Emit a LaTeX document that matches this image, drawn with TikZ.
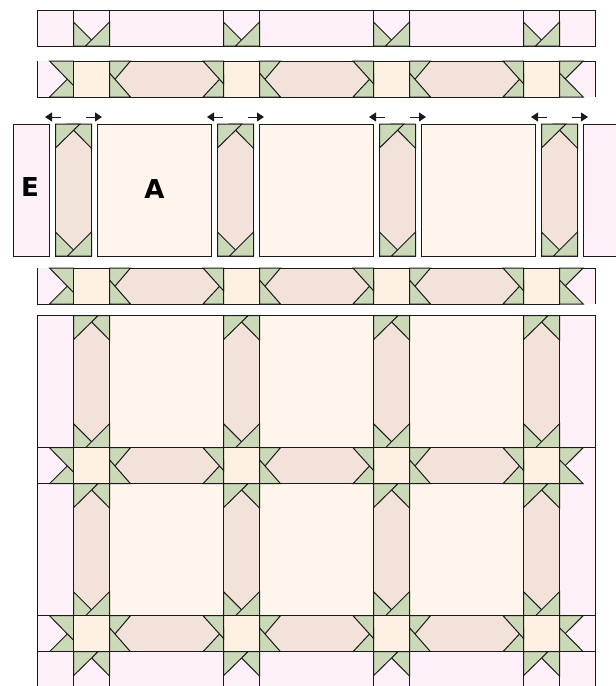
\documentclass[tikz,border=0pt]{standalone}
\usepackage{fontspec}
\setmainfont{DejaVu Sans}
\usetikzlibrary{arrows.meta}
\definecolor{pinkcl}{HTML}{FDF0F8}
\definecolor{creamcl}{HTML}{FFF5EC}
\definecolor{peachcl}{HTML}{FFF0E4}
\definecolor{tancl}{HTML}{F3E2D9}
\definecolor{greencl}{HTML}{CBD9B9}
\definecolor{edgecl}{HTML}{1A1A1A}
\tikzset{
  patch/.style={draw=edgecl, line width=1pt, line join=miter},
  border/.style={patch, fill=pinkcl},
  block/.style={patch, fill=creamcl},
  corner/.style={patch, fill=peachcl},
  sash/.style={patch, fill=tancl},
  point/.style={patch, fill=greencl},
  lbl/.style={font=\bfseries\fontsize{26}{26}\selectfont, inner sep=0pt},
  mv/.style={draw=edgecl, line width=0.8pt, -{Triangle[length=7pt,width=9pt]}},
  % ends of a star, as they stand in the strips
  topends/.pic={
    \draw[point] (12,0) -- (36,0) -- (36,24.3) -- cycle;
    \draw[point] (0,0) -- (24.5,0) -- (0,24) -- cycle;
  },
  bottomends/.pic={
    \draw[point] (0,-24) -- (0,0) -- (24,0) -- cycle;
    \draw[point] (36,-24) -- (36,0) -- (12,0) -- cycle;
  },
  vsash/.pic={
    \draw[sash] (0,0) rectangle (36,132);
    \pic at (0,0) {topends};
    \pic at (0,132) {bottomends};
  },
  hsash/.pic={
    \draw[sash] (0,0) rectangle (114,36);
    \draw[point] (0,0) -- (21,0) -- (0,24.7) -- cycle;
    \draw[point] (0,12) -- (21,36) -- (0,36) -- cycle;
    \draw[point] (93.5,36) -- (114,36) -- (114,14) -- cycle;
    \draw[point] (93.5,0) -- (114,0) -- (114,22.7) -- cycle;
  },
  sashrow/.pic={
    % left end, open on top
    \fill[pinkcl] (0,0) rectangle (36,36);
    \draw[patch] (0,0) -- (0,36) -- (36,36);
    \draw[point] (12,36) -- (36,36) -- (36,12) -- cycle;
    \draw[point] (12,0) -- (36,0) -- (36,24.5) -- cycle;
    \foreach \c in {36,186,336,486} {
      \draw[corner] (\c,0) rectangle ++(36,36);
    }
    \foreach \c in {72,222,372} {
      \pic at (\c,0) {hsash};
    }
    % right end, open below
    \fill[pinkcl] (522,0) rectangle (558,36);
    \draw[patch] (522,0) -- (558,0) -- (558,36);
    \draw[point] (522,0) -- (545.7,0) -- (522,23.5) -- cycle;
    \draw[point] (522,12) -- (545.7,36) -- (522,36) -- cycle;
  },
}
\begin{document}
\begin{tikzpicture}[x=1pt,y=-1pt]
\useasboundingbox (0,0) rectangle (616,686);
\clip (0,0) rectangle (616,686);

% top strip
\draw[border] (37.5,10) rectangle (595.5,46);
\foreach \c in {73.5,223.5,373.5,523.5} {
  \draw[border] (\c,10) rectangle ++(36,36);
  \pic at (\c,46) {bottomends};
}

% strips, taken apart
\pic at (37.5,61) {sashrow};
\pic at (37.5,268) {sashrow};

% middle row, taken apart
\draw[border] (13.7,124) rectangle ++(36,132);
\draw[border] (583.5,124) rectangle ++(36,132);
\node[lbl] (lblE) at (30,187) {E};
\foreach \c in {97.5,259.5,421.5} {
  \draw[block] (\c,124) rectangle ++(114,132);
}
\node[lbl] (lblA) at (154.5,189.5) {A};
\foreach \c [count=\n] in {55.5,217.5,379.5,541.5} {
  \pic at (\c,124) {vsash};
  \coordinate (la\n) at (\c+5.5,117);
  \coordinate (lb\n) at (\c-10.5,117);
  \coordinate (ra\n) at (\c+30.5,117);
  \coordinate (rb\n) at (\c+46.5,117);
  \draw[mv] (la\n) -- (lb\n);
  \draw[mv] (ra\n) -- (rb\n);
}

% the sewn top
\foreach \y in {315.7,483.7} {
  \draw[border] (37.5,\y) rectangle ++(36,132);
  \draw[border] (559.5,\y) rectangle ++(36,132);
  \foreach \c in {109.5,259.5,409.5} {
    \draw[block] (\c,\y) rectangle ++(114,132);
  }
  \foreach \c in {73.5,223.5,373.5,523.5} {
    \pic at (\c,\y) {vsash};
  }
}
\pic at (37.5,447.7) {sashrow};
\pic at (37.5,615.7) {sashrow};

% bottom strip, cut off by the page
\draw[border] (37.5,651.7) rectangle (595.5,700);
\foreach \c in {73.5,223.5,373.5,523.5} {
  \draw[border] (\c,651.7) rectangle ++(36,48);
  \pic at (\c,651.7) {topends};
}
\end{tikzpicture}
\end{document}
